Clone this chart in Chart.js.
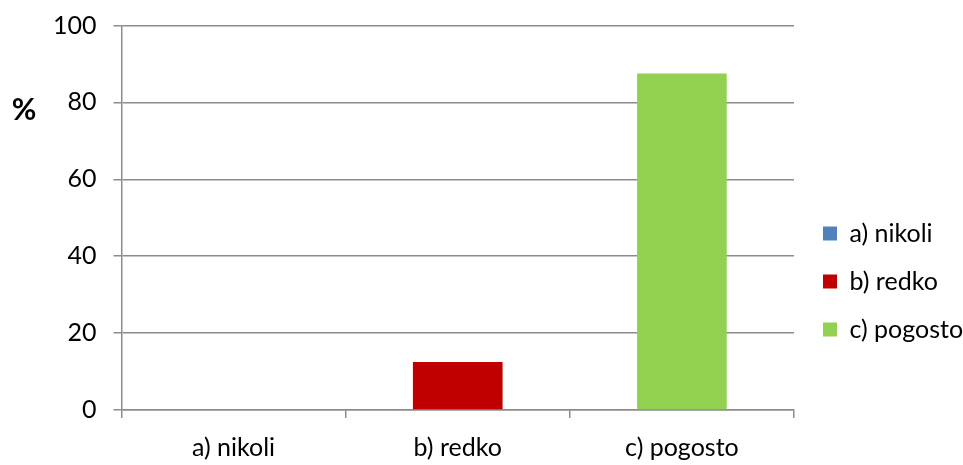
<!DOCTYPE html>
<html>
<head>
<meta charset="utf-8">
<script src="https://cdn.jsdelivr.net/npm/chart.js@4/dist/chart.umd.min.js"></script>
<style>
  html, body { margin: 0; padding: 0; background: #fff; }
  #wrap { width: 963px; height: 465px; position: relative; }
</style>
</head>
<body>
<div id="wrap"><canvas id="freqChart"></canvas></div>
<script>
const categories = ['a) nikoli', 'b) redko', 'c) pogosto'];
const percentValues = [0, 12.5, 87.5];
const barColors = ['#4F81BD', '#C00000', '#92D050'];
const yTicks = [0, 20, 40, 60, 80, 100];

const axisGray = '#8C8C8C';
const fontFamily = 'Lato, "Open Sans", sans-serif';

// "%" label left of the y axis, not rotated
const percentLabel = {
  id: 'percentLabel',
  afterDraw(chart) {
    const ctx = chart.ctx;
    const y = chart.scales.y.getPixelForValue(78);
    ctx.save();
    ctx.font = 'bold 30px ' + fontFamily;
    ctx.fillStyle = '#000';
    ctx.textAlign = 'center';
    ctx.textBaseline = 'middle';
    ctx.fillText('%', 24, y);
    ctx.restore();
  },
};

// move legend a bit down and right, like the original
const legendShift = {
  id: 'legendShift',
  afterLayout(chart) {
    chart.legend.top += 41;
    chart.legend.bottom += 41;
    chart.legend.left += 6;
    chart.legend.right += 6;
  },
};

var ctx = document.getElementById('freqChart').getContext('2d');
var freqChart = new Chart(ctx, {
  type: 'bar',
  data: {
    labels: categories,
    datasets: [
      {
        label: '%',
        data: percentValues,
        backgroundColor: barColors,
        borderWidth: 0,
        categoryPercentage: 1,
        barPercentage: 0.4,
      },
    ],
  },
  options: {
    responsive: true,
    maintainAspectRatio: false,
    animation: false,
    layout: {
      padding: { left: 36, top: 3, right: 0, bottom: -13 },
    },
    plugins: {
      tooltip: { enabled: false },
      legend: {
        position: 'right',
        align: 'center',
        maxWidth: 169,
        labels: {
          color: '#000',
          font: { family: fontFamily, size: 25 },
          boxWidth: 14,
          boxHeight: 14,
          padding: 23,
          generateLabels(chart) {
            return categories.map((c, i) => ({
              text: c,
              fillStyle: barColors[i],
              strokeStyle: barColors[i],
              lineWidth: 0,
              fontColor: '#000',
              index: i,
            }));
          },
        },
      },
    },
    scales: {
      x: {
        grid: {
          display: true,
          drawOnChartArea: false,
          drawTicks: true,
          tickLength: 8,
          color: axisGray,
          lineWidth: 1.5,
        },
        border: { color: axisGray, width: 1.5 },
        ticks: {
          color: '#000',
          font: { family: fontFamily, size: 25 },
          padding: 15,
        },
      },
      y: {
        min: 0,
        max: 100,
        afterBuildTicks(scale) {
          scale.ticks = yTicks.map((v) => ({ value: v }));
        },
        grid: {
          color: axisGray,
          lineWidth: 1.5,
          tickLength: 8,
        },
        border: { color: axisGray, width: 1.5 },
        ticks: {
          color: '#000',
          font: { family: fontFamily, size: 25, lineHeight: 0.68 },
          padding: 17,
        },
      },
    },
  },
  plugins: [percentLabel, legendShift],
});
</script>
</body>
</html>
